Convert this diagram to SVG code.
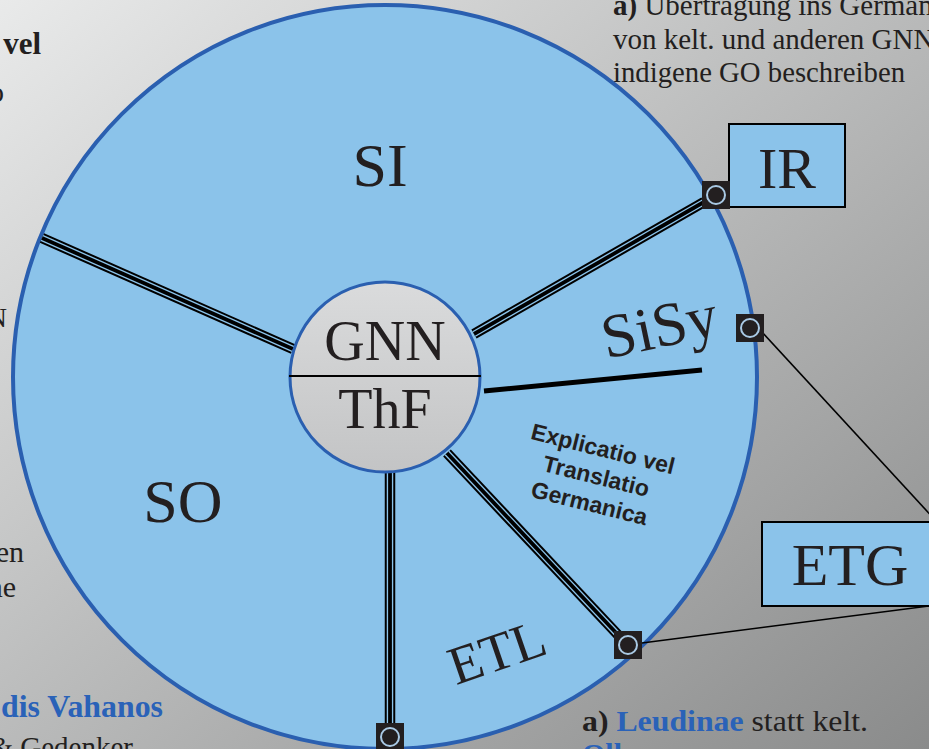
<svg xmlns="http://www.w3.org/2000/svg" width="929" height="749" viewBox="0 0 929 749">
<defs>
<linearGradient id="bg" x1="0" y1="0" x2="1" y2="1">
<stop offset="0" stop-color="#e9eaea"/>
<stop offset="0.5" stop-color="#b9baba"/>
<stop offset="1" stop-color="#8a8b8b"/>
</linearGradient>
<linearGradient id="hub" x1="0" y1="0" x2="0" y2="1">
<stop offset="0" stop-color="#dadbdc"/>
<stop offset="1" stop-color="#c3c4c5"/>
</linearGradient>
<g id="node">
<rect x="-14" y="-14" width="28" height="28" fill="#231f20"/>
<circle r="9" fill="#231f20" stroke="#a9c9e4" stroke-width="2"/>
</g>
</defs>
<style>
.serif{font-family:"Liberation Serif","Times New Roman",serif;fill:#231f20}
.sans{font-family:"Liberation Sans",Arial,sans-serif;font-weight:bold;fill:#231f20}
.blue{fill:#2a62b8}
.b{font-weight:bold}
.o{stroke:#000;stroke-width:10.5;fill:none}
.m{stroke:#8bc3ea;stroke-width:6.5;fill:none}
.i{stroke:#000;stroke-width:3.8;fill:none}
.thin{stroke:#000;stroke-width:1.6;fill:none}
.box{fill:#8bc3ea;stroke:#000;stroke-width:2}
</style>
<rect width="929" height="749" fill="url(#bg)"/>

<g id="side-texts">
<text class="serif b" x="41" y="54" font-size="31" text-anchor="end">vel</text>
<text class="serif" x="4" y="102" font-size="30" text-anchor="end">o</text>
<text class="serif" x="7" y="327" font-size="28" text-anchor="end">N</text>
<text class="serif" x="24" y="562" font-size="30" text-anchor="end">en</text>
<text class="serif" x="16" y="597" font-size="30" text-anchor="end">ne</text>
<text class="serif b blue" x="1" y="717" font-size="31" textLength="162" lengthAdjust="spacingAndGlyphs">dis Vahanos</text>
<text class="serif" x="133" y="757" font-size="29" text-anchor="end">&amp; Gedenker</text>
<text class="serif" x="613" y="15" font-size="29"><tspan class="b">a)</tspan> Übertragung ins Germanische</text>
<text class="serif" x="613" y="49" font-size="29">von kelt. und anderen GNN</text>
<text class="serif" x="613" y="82" font-size="29" textLength="292" lengthAdjust="spacingAndGlyphs">indigene GO beschreiben</text>
<text class="serif" x="582" y="731" font-size="30" textLength="286" lengthAdjust="spacingAndGlyphs"><tspan class="b">a)</tspan> <tspan class="b blue">Leudinae</tspan> statt kelt.</text>
<text class="serif b blue" x="582" y="764" font-size="30">Oll</text>
</g>

<g id="wheel">
<circle cx="385" cy="377" r="372" fill="#8bc3ea" stroke="#2a5fb0" stroke-width="4"/>
</g>

<g id="connectors">
<path class="o" d="M42 238 L293 349"/>
<path class="m" d="M42 238 L293 349"/>
<path class="i" d="M42 238 L293 349"/>
<path class="o" d="M474 334 L704 202"/>
<path class="m" d="M474 334 L704 202"/>
<path class="i" d="M474 334 L704 202"/>
<path d="M484 391 L702 370" stroke="#000" stroke-width="5" fill="none"/>
<path class="o" d="M447 453 L620 637"/>
<path class="m" d="M447 453 L620 637"/>
<path class="i" d="M447 453 L620 637"/>
<path class="o" d="M390 470 L390 724"/>
<path class="m" d="M390 470 L390 724"/>
<path class="i" d="M390 470 L390 724"/>
<path class="thin" d="M762 332 L937 522"/>
<path class="thin" d="M642 643 L937 605"/>
</g>

<g id="hub-node">
<circle cx="385" cy="377" r="95" fill="url(#hub)" stroke="#2a5fb0" stroke-width="3"/>
<line x1="289" y1="376" x2="481" y2="376" stroke="#000" stroke-width="1.8"/>
<text class="serif" x="385" y="360" font-size="56" text-anchor="middle">GNN</text>
<text class="serif" x="385" y="428" font-size="56" text-anchor="middle">ThF</text>
</g>

<g id="sector-SI"><text class="serif" x="380" y="186" font-size="62" text-anchor="middle">SI</text></g>
<g id="sector-SO"><text class="serif" x="183" y="522" font-size="62" text-anchor="middle">SO</text></g>
<g id="sector-SiSy"><text class="serif" x="660" y="347" font-size="62" text-anchor="middle" transform="rotate(-12 660 330)">SiSy</text></g>
<g id="sector-ETL"><text class="serif" x="497" y="670" font-size="54" text-anchor="middle" transform="rotate(-19 497 652)">ETL</text></g>
<g id="sector-ETG-label" transform="translate(596 477) rotate(14)">
<text class="sans" x="0" y="-21" font-size="23" text-anchor="middle">Explicatio vel</text>
<text class="sans" x="0" y="7" font-size="23" text-anchor="middle">Translatio</text>
<text class="sans" x="0" y="35" font-size="23" text-anchor="middle">Germanica</text>
</g>

<g id="IR">
<rect class="box" x="729" y="124" width="116" height="83"/>
<text class="serif" x="787" y="188" font-size="58" text-anchor="middle">IR</text>
</g>
<g id="ETG">
<rect class="box" x="762" y="522" width="180" height="84"/>
<text class="serif" x="850" y="585" font-size="60" text-anchor="middle">ETG</text>
</g>

<g id="port-IR"><use href="#node" x="716" y="195"/></g>
<g id="port-SiSy"><use href="#node" x="750" y="328"/></g>
<g id="port-ETL"><use href="#node" x="628" y="645"/></g>
<g id="port-bottom"><use href="#node" x="390" y="737"/></g>
</svg>
